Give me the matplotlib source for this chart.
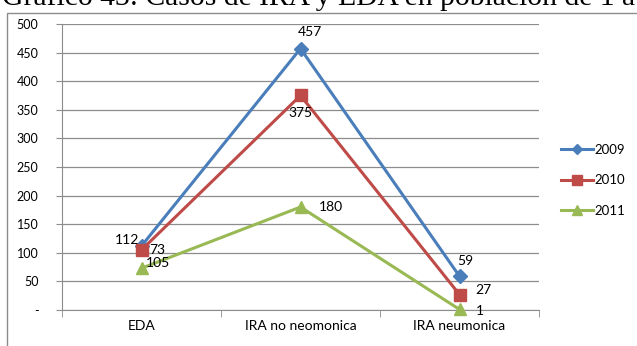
import matplotlib
matplotlib.use("Agg")
import matplotlib.pyplot as plt
from matplotlib.patches import Rectangle
from matplotlib.lines import Line2D

categories = ["EDA", "IRA no neomonica", "IRA neumonica"]
years = ["2009", "2010", "2011"]
v2009 = [112, 457, 59]
v2010 = [105, 375, 27]
v2011 = [73, 180, 1]
yticks = [0, 50, 100, 150, 200, 250, 300, 350, 400, 450, 500]
ytick_labels = ["-", "50", "100", "150", "200", "250", "300", "350", "400", "450", "500"]
title = "Gráfico 43: Casos de IRA y EDA en población de 1 a 4 años"

colors = ["#4A7EBB", "#BE4B48", "#98B954"]
markers = ["D", "s", "^"]
msizes = [7, 8, 9]
series = [v2009, v2010, v2011]
# label offsets in pixels (dx, dy)
offsets = [
    [(-14, 6), (9, 17), (6, 15)],
    [(16, -13), (0, -18), (24, 5)],
    [(16, 18), (30, 0), (20, -2)],
]

W, H = 637, 346
fig = plt.figure(figsize=(W / 100, H / 100), dpi=100)
plt.rcParams['font.family'] = ['Lato', 'DejaVu Sans']

# chart frame (left & top edges visible)
fig.patches.append(Rectangle((7 / W, -0.2), 2.0, (H - 13) / H + 0.2,
                             transform=fig.transFigure, fill=False,
                             edgecolor="#8C8C8C", lw=1.0))
fig.text(2 / W, (H - 5) / H, title, family="Liberation Serif", fontsize=21.3,
         va="baseline", ha="left", color="black")

ax = fig.add_axes([62 / W, (H - 310) / H, (539 - 62) / W, (310 - 24) / H])
x = [0, 1, 2]
for i, vals in enumerate(series):
    ax.plot(x, vals, color=colors[i], marker=markers[i], ms=msizes[i], lw=2.2,
            label=years[i], zorder=3 + i, clip_on=False)
    for j, v in enumerate(vals):
        dx, dy = offsets[i][j]
        ax.annotate(str(v), (x[j], v), xytext=(dx, dy), textcoords="offset pixels",
                    ha="center", va="center", fontsize=10, color="black", zorder=10)

ax.set_xlim(-0.5, 2.5)
ax.set_ylim(0, 500)
ax.set_yticks(yticks)
ax.set_yticklabels(ytick_labels, fontsize=9)
ax.yaxis.grid(True, color="#8C8C8C", lw=0.9)
ax.set_axisbelow(True)
ax.set_xticks(x)
ax.set_xticklabels(categories, fontsize=10)
ax.set_xticks([-0.5, 0.5, 1.5, 2.5], minor=True)
ax.tick_params(axis="x", which="major", length=0, pad=7)
ax.tick_params(axis="x", which="minor", length=5, color="#8C8C8C", direction="out")
ax.tick_params(axis="y", length=4, color="#8C8C8C", pad=13)
for s in ["top", "right"]:
    ax.spines[s].set_visible(False)
ax.spines["bottom"].set_color("#8C8C8C")
ax.spines["left"].set_color("#8C8C8C")

handles = [Line2D([0], [0], color=colors[i], marker=markers[i], ms=m, lw=2.2)
           for i, m in enumerate([5, 7, 7])]
leg = fig.legend(handles, years, loc="upper left", bbox_to_anchor=(561 / W, (H - 144) / H),
                 frameon=False, fontsize=9.5, handlelength=2.4, handletextpad=0.15,
                 labelspacing=1.4, borderaxespad=0, borderpad=0)

fig.savefig("out.png", dpi=100)
